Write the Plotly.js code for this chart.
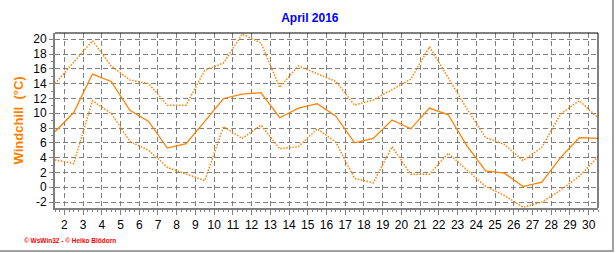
<!DOCTYPE html>
<html>
<head>
<meta charset="utf-8">
<script src="https://cdn.plot.ly/plotly-3.0.1.min.js"></script>
<style>
  html, body { margin: 0; padding: 0; background: #fff; }
  #chart { width: 616px; height: 253px; }
</style>
</head>
<body>
<div id="chart"></div>
<script>
// Day positions (noon of each day of April 2016)
const days = [1.5, 2.5, 3.5, 4.5, 5.5, 6.5, 7.5, 8.5, 9.5, 10.5,
              11.5, 12.5, 13.5, 14.5, 15.5, 16.5, 17.5, 18.5, 19.5, 20.5,
              21.5, 22.5, 23.5, 24.5, 25.5, 26.5, 27.5, 28.5, 29.5, 30.5];

// Windchill daily maximum (dotted, upper)
const windchillMax = [14.0, 16.9, 19.8, 16.4, 14.5, 14.0, 11.1, 11.1, 15.8, 16.8,
                      20.7, 19.5, 13.5, 16.4, 15.4, 14.3, 11.1, 11.8, 13.2, 14.6,
                      19.0, 14.7, 10.6, 6.7, 5.8, 3.6, 5.4, 9.9, 11.7, 9.4];

// Windchill daily mean (solid)
const windchillMean = [7.5, 10.1, 15.3, 14.3, 10.4, 8.9, 5.3, 5.9, 8.9, 12.0,
                       12.6, 12.8, 9.4, 10.7, 11.3, 9.6, 6.0, 6.6, 9.1, 7.9,
                       10.7, 9.8, 5.6, 2.2, 1.9, 0.1, 0.7, 4.0, 6.7, 6.6];

// Windchill daily minimum (dotted, lower)
const windchillMin = [3.7, 3.2, 11.7, 10.0, 6.2, 5.0, 2.7, 1.75, 0.9, 8.2,
                      6.6, 8.4, 5.2, 5.5, 7.9, 6.1, 1.2, 0.6, 5.5, 1.75,
                      1.75, 4.6, 2.3, 0.1, -1.1, -2.7, -2.0, -0.4, 1.5, 4.1];

// Tick labels
const xTicks = [2, 3, 4, 5, 6, 7, 8, 9, 10, 11, 12, 13, 14, 15, 16, 17, 18, 19, 20,
                21, 22, 23, 24, 25, 26, 27, 28, 29, 30];
const yTicks = [-2, 0, 2, 4, 6, 8, 10, 12, 14, 16, 18, 20];

const titleText = 'April 2016';
const yTitleText = 'Windchill&nbsp;&nbsp;(°C)';
const footerText = '© WsWin32 - © Heiko Blödorn';

const orange = '#FF8000';

const traces = [
  { x: days, y: windchillMax, type: 'scatter', mode: 'lines',
    line: { color: orange, width: 1.5, dash: '1.5px,1.5px' }, hoverinfo: 'skip' },
  { x: days, y: windchillMin, type: 'scatter', mode: 'lines',
    line: { color: orange, width: 1.5, dash: '1.5px,1.5px' }, hoverinfo: 'skip' },
  { x: days, y: windchillMean, type: 'scatter', mode: 'lines',
    line: { color: orange, width: 1.3 }, hoverinfo: 'skip' }
];

const baseFont = { family: 'Liberation Sans, Arial, sans-serif', size: 12, color: '#000' };

const layout = {
  width: 616, height: 253,
  margin: { l: 55, r: 18, t: 33, b: 45 },
  paper_bgcolor: '#ffffff',
  plot_bgcolor: '#ffffff',
  showlegend: false,
  font: baseFont,
  title: {
    text: '<b>' + titleText + '</b>',
    font: { family: 'Liberation Sans, Arial, sans-serif', size: 12, color: '#0000FF' },
    x: 0.503, xref: 'container', xanchor: 'center',
    y: 1 - 18 / 253, yref: 'container', yanchor: 'middle'
  },
  xaxis: {
    range: [1.5, 30.5],
    tickmode: 'array', tickvals: xTicks, ticktext: xTicks.map(String),
    ticks: 'outside', ticklen: 5, tickcolor: '#808080', tickwidth: 1,
    showline: true, linecolor: '#808080', linewidth: 2,
    showgrid: true, gridcolor: '#808080', gridwidth: 1, griddash: '5px,3px',
    zeroline: false,
    tickfont: baseFont,
    minor: { dtick: 0.25, tick0: 0, ticks: 'outside', ticklen: 2, tickcolor: '#808080', showgrid: false }
  },
  yaxis: {
    range: [-2.8, 20.85],
    tickmode: 'array', tickvals: yTicks, ticktext: yTicks.map(String),
    ticks: 'outside', ticklen: 4, tickcolor: '#808080', tickwidth: 1,
    showline: true, linecolor: '#808080', linewidth: 2,
    showgrid: true, gridcolor: '#808080', gridwidth: 1, griddash: '5px,3px',
    zeroline: false,
    tickfont: baseFont,
    minor: { dtick: 1, tick0: 0, ticks: 'outside', ticklen: 2, tickcolor: '#808080', showgrid: false }
  },
  shapes: [
    { type: 'line', xref: 'paper', yref: 'paper', x0: 0, x1: 1, y0: 1, y1: 1,
      line: { color: '#000000', width: 1 } },
    { type: 'line', xref: 'paper', yref: 'paper', x0: 1, x1: 1, y0: 0, y1: 1,
      line: { color: '#000000', width: 1 } },
    // outer frame lines (right and bottom)
    { type: 'line', xref: 'paper', yref: 'paper',
      x0: (613 - 55) / 543, x1: (613 - 55) / 543, y0: 208 / 175, y1: -(251 - 208) / 175,
      line: { color: '#a0a0a0', width: 2 } },
    { type: 'line', xref: 'paper', yref: 'paper',
      x0: -55 / 543, x1: (614 - 55) / 543, y0: -(251 - 208) / 175, y1: -(251 - 208) / 175,
      line: { color: '#a0a0a0', width: 2 } }
  ],
  annotations: [
    { text: '<b>' + yTitleText + '</b>', textangle: -90,
      xref: 'paper', yref: 'paper', x: (18 - 55) / 543, y: 0.5,
      xanchor: 'center', yanchor: 'middle', showarrow: false,
      font: { family: 'Liberation Sans, Arial, sans-serif', size: 13, color: orange } },
    { text: '<b>' + footerText + '</b>',
      xref: 'paper', yref: 'paper', x: (22 - 55) / 543, y: -(240 - 208) / 175,
      xanchor: 'left', yanchor: 'middle', showarrow: false,
      font: { family: 'Liberation Sans, Arial, sans-serif', size: 6.5, color: '#FF0000' } }
  ]
};

Plotly.newPlot('chart', traces, layout, { staticPlot: true, displayModeBar: false });
</script>
</body>
</html>
